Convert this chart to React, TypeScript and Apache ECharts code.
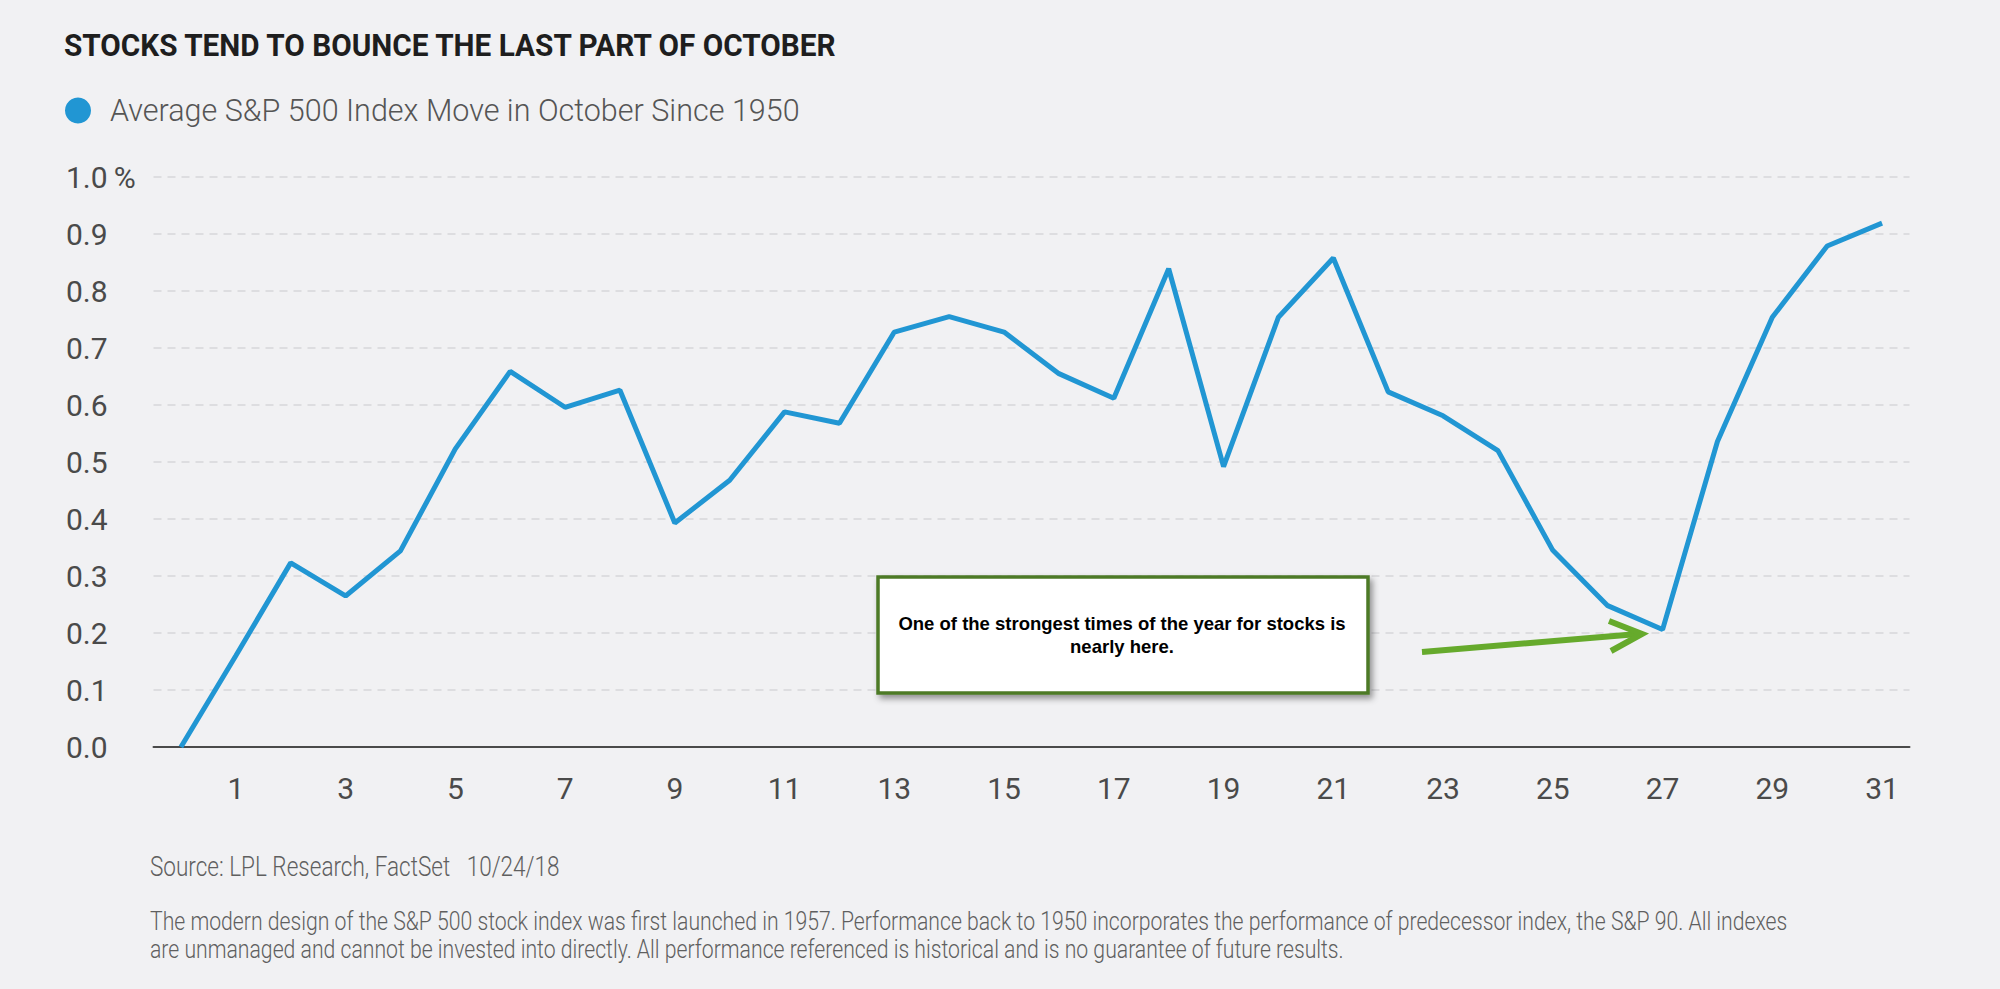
import React, { useEffect, useRef } from 'react';
import * as echarts from 'echarts';

// ---- data ----
const days: string[] = ['0', '1', '2', '3', '4', '5', '6', '7', '8', '9', '10', '11', '12', '13', '14', '15', '16', '17', '18', '19', '20', '21', '22', '23', '24', '25', '26', '27', '28', '29', '30', '31'];
const avgMove: number[] = [0, 0.16, 0.323, 0.265, 0.344, 0.523, 0.659, 0.596, 0.626, 0.393, 0.468, 0.588, 0.568, 0.728, 0.755, 0.728, 0.655, 0.612, 0.839, 0.492, 0.754, 0.858, 0.623, 0.581, 0.52, 0.345, 0.248, 0.206, 0.536, 0.754, 0.879, 0.919];

const titleText = 'STOCKS TEND TO BOUNCE THE LAST PART OF OCTOBER';
const seriesName = 'Average S&P 500 Index Move in October Since 1950';
const sourceText = 'Source: LPL Research, FactSet   10/24/18';
const disclaimerText =
  'The modern design of the S&P 500 stock index was first launched in 1957. Performance back to 1950 incorporates the performance of predecessor index, the S&P 90. All indexes\n' +
  'are unmanaged and cannot be invested into directly. All performance referenced is historical and is no guarantee of future results.';
const calloutText = 'One of the strongest times of the year for stocks is\nnearly here.';

const FONT = "Roboto, 'Noto Sans', sans-serif";
const BLUE = '#2196d3';
const GREEN = '#66aa2c';

export default function App() {
  const ref = useRef<HTMLDivElement>(null);

  useEffect(() => {
    if (!ref.current) return;
    const chart = echarts.init(ref.current, undefined, { renderer: 'svg' });
    const option: any = {
      animation: false,
      backgroundColor: '#f1f1f3',
      legend: {
        left: 65,
        top: 95,
        padding: 0,
        icon: 'circle',
        itemWidth: 26,
        itemHeight: 26,
        data: [seriesName],
        textStyle: { fontFamily: FONT, fontSize: 30.5, fontWeight: 300, color: '#555555', padding: [0, 0, 0, 14] },
      },
      grid: { left: 153.5, top: 177, width: 1756, height: 570 },
      xAxis: {
        type: 'category',
        data: days,
        boundaryGap: true,
        axisLine: { lineStyle: { color: '#4a4a4a', width: 2 } },
        axisTick: { show: false },
        axisLabel: {
          interval: (i: number) => i % 2 === 1,
          margin: 26,
          fontFamily: FONT,
          fontSize: 30,
          color: '#4a4a4a',
        },
      },
      yAxis: {
        type: 'value',
        min: 0,
        max: 1,
        interval: 0.1,
        axisLine: { show: false },
        axisTick: { show: false },
        splitLine: { lineStyle: { color: '#d6d6da', type: [8, 6], width: 1.5 } },
        axisLabel: {
          formatter: (v: number) => (Math.abs(v - 1) < 1e-9 ? '1.0\u2009%' : v.toFixed(1)),
          align: 'left',
          margin: 87.5,
          fontFamily: FONT,
          fontSize: 30,
          color: '#4a4a4a',
        },
      },
      series: [
        {
          name: seriesName,
          type: 'line',
          data: avgMove,
          symbol: 'none',
          lineStyle: { color: BLUE, width: 5 },
          itemStyle: { color: BLUE },
        },
      ],
      graphic: [
        {
          type: 'text',
          x: 64,
          y: 45,
          scaleX: 0.93,
          style: {
            text: titleText,
            fill: '#1e1e1e',
            fontFamily: FONT,
            fontWeight: 'bold',
            fontSize: 32,
            textVerticalAlign: 'middle',
          },
        },
        {
          type: 'rect',
          shape: { x: 878, y: 577, width: 490, height: 116 },
          style: {
            fill: '#ffffff',
            stroke: '#4e7a27',
            lineWidth: 3.5,
            shadowBlur: 6,
            shadowOffsetX: 3,
            shadowOffsetY: 4,
            shadowColor: 'rgba(0,0,0,0.4)',
          },
          z: 10,
        },
        {
          type: 'text',
          x: 1122,
          y: 635,
          style: {
            text: calloutText,
            fill: '#000000',
            fontFamily: "'Liberation Sans', Arial, sans-serif",
            fontWeight: 'bold',
            fontSize: 18.5,
            lineHeight: 23,
            textAlign: 'center',
            textVerticalAlign: 'middle',
          },
          z: 11,
        },
        {
          type: 'line',
          shape: { x1: 1422, y1: 652, x2: 1638, y2: 634 },
          style: { stroke: GREEN, lineWidth: 6 },
          z: 10,
        },
        {
          type: 'polyline',
          shape: { points: [[1609, 621], [1642, 634], [1611, 651]] },
          style: { stroke: GREEN, lineWidth: 6, fill: 'none' },
          z: 10,
        },
        {
          type: 'text',
          x: 150,
          y: 867,
          scaleX: 0.835,
          style: {
            text: sourceText,
            fill: '#5f5f5f',
            fontFamily: FONT,
            fontWeight: 300,
            fontSize: 27,
            textVerticalAlign: 'middle',
          },
        },
        {
          type: 'text',
          x: 150,
          y: 907,
          scaleX: 0.8,
          style: {
            text: disclaimerText,
            fill: '#5f5f5f',
            fontFamily: FONT,
            fontWeight: 300,
            fontSize: 26.5,
            lineHeight: 28,
            textVerticalAlign: 'top',
          },
        },
      ],
    };
    chart.setOption(option);
    return () => chart.dispose();
  }, []);

  return <div ref={ref} style={{ position: 'fixed', left: 0, top: 0, width: 2000, height: 989 }} />;
}
